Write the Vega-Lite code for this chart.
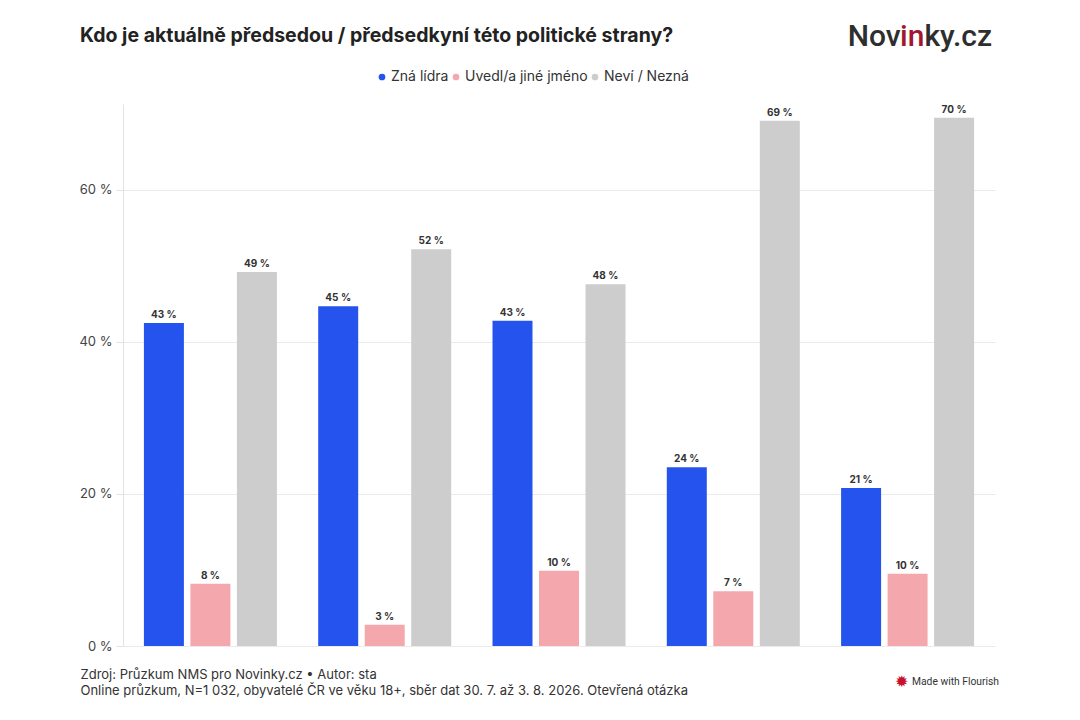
{
  "$schema": "https://vega.github.io/schema/vega-lite/v6.json",
  "background": "white",
  "autosize": {"type": "none"},
  "width": 872,
  "height": 542,
  "padding": {"left": 123, "top": 104, "right": 85, "bottom": 74},
  "title": {
    "text": "Kdo je aktuálně předsedou / předsedkyní této politické strany?",
    "anchor": "start",
    "frame": "group",
    "dx": -43,
    "offset": -24,
    "font": "Inter",
    "fontSize": 19.5,
    "fontWeight": 700,
    "color": "#222222"
  },
  "data": {
    "values": [
      {"strana": "Strana 1", "odpoved": "Zná lídra", "hodnota": 42.5, "popisek": "43 %"},
      {"strana": "Strana 1", "odpoved": "Uvedl/a jiné jméno", "hodnota": 8.2, "popisek": "8 %"},
      {"strana": "Strana 1", "odpoved": "Neví / Nezná", "hodnota": 49.2, "popisek": "49 %"},
      {"strana": "Strana 2", "odpoved": "Zná lídra", "hodnota": 44.7, "popisek": "45 %"},
      {"strana": "Strana 2", "odpoved": "Uvedl/a jiné jméno", "hodnota": 2.8, "popisek": "3 %"},
      {"strana": "Strana 2", "odpoved": "Neví / Nezná", "hodnota": 52.2, "popisek": "52 %"},
      {"strana": "Strana 3", "odpoved": "Zná lídra", "hodnota": 42.8, "popisek": "43 %"},
      {"strana": "Strana 3", "odpoved": "Uvedl/a jiné jméno", "hodnota": 9.9, "popisek": "10 %"},
      {"strana": "Strana 3", "odpoved": "Neví / Nezná", "hodnota": 47.6, "popisek": "48 %"},
      {"strana": "Strana 4", "odpoved": "Zná lídra", "hodnota": 23.5, "popisek": "24 %"},
      {"strana": "Strana 4", "odpoved": "Uvedl/a jiné jméno", "hodnota": 7.2, "popisek": "7 %"},
      {"strana": "Strana 4", "odpoved": "Neví / Nezná", "hodnota": 69.1, "popisek": "69 %"},
      {"strana": "Strana 5", "odpoved": "Zná lídra", "hodnota": 20.8, "popisek": "21 %"},
      {"strana": "Strana 5", "odpoved": "Uvedl/a jiné jméno", "hodnota": 9.5, "popisek": "10 %"},
      {"strana": "Strana 5", "odpoved": "Neví / Nezná", "hodnota": 69.5, "popisek": "70 %"}
    ]
  },
  "encoding": {
    "x": {
      "field": "strana",
      "type": "nominal",
      "sort": null,
      "scale": {"paddingInner": 0.237, "paddingOuter": 0.12},
      "axis": {
        "labels": false,
        "ticks": false,
        "domain": false,
        "grid": false,
        "title": [
          "Zdroj: Průzkum NMS pro Novinky.cz • Autor: sta",
          "Online průzkum, N=1 032, obyvatelé ČR ve věku 18+, sběr dat 30. 7. až 3. 8. 2026. Otevřená otázka"
        ],
        "titleAnchor": "start",
        "titleAlign": "left",
        "titleBaseline": "top",
        "titleX": -43,
        "titleY": 22,
        "titleFont": "Inter",
        "titleFontSize": 13,
        "titleFontWeight": 400,
        "titleColor": "#333333",
        "titleLineHeight": 16
      }
    },
    "xOffset": {
      "field": "odpoved",
      "type": "nominal",
      "sort": ["Zná lídra", "Uvedl/a jiné jméno", "Neví / Nezná"],
      "scale": {"paddingInner": 0.14, "paddingOuter": 0}
    },
    "y": {
      "field": "hodnota",
      "type": "quantitative",
      "scale": {"domain": [0, 71.3], "nice": false},
      "axis": {
        "title": null,
        "values": [0, 20, 40, 60],
        "labelExpr": "datum.value + ' %'",
        "labelFont": "Inter",
        "labelFontSize": 13,
        "labelColor": "#444444",
        "labelPadding": 4,
        "tickSize": 7,
        "tickColor": "#e3e3e3",
        "domainColor": "#e3e3e3",
        "gridColor": "#ebebeb"
      }
    }
  },
  "layer": [
    {
      "mark": {"type": "bar"},
      "encoding": {
        "color": {
          "field": "odpoved",
          "type": "nominal",
          "sort": ["Zná lídra", "Uvedl/a jiné jméno", "Neví / Nezná"],
          "scale": {
            "domain": ["Zná lídra", "Uvedl/a jiné jméno", "Neví / Nezná"],
            "range": ["#2553ee", "#f4a8ae", "#cdcdcd"]
          },
          "legend": {
            "title": null,
            "orient": "none",
            "direction": "horizontal",
            "legendX": 252,
            "legendY": -34,
            "symbolType": "circle",
            "symbolSize": 45,
            "symbolStrokeWidth": 0,
            "labelFont": "Inter",
            "labelFontSize": 14,
            "labelColor": "#333333",
            "labelOffset": 2,
            "columnPadding": 0
          }
        }
      }
    },
    {
      "mark": {
        "type": "text",
        "baseline": "alphabetic",
        "dy": -5,
        "font": "Inter",
        "fontSize": 10,
        "fontWeight": 700,
        "color": "#333333"
      },
      "encoding": {
        "text": {"field": "popisek"}
      }
    },
    {
      "data": {"values": [{"cast": "Nov"}]},
      "mark": {"type": "text", "align": "right", "baseline": "alphabetic", "font": "Roboto", "fontSize": 30, "fontWeight": 500, "color": "#2e2e2e"},
      "encoding": {"x": {"value": 777.6}, "y": {"value": -58}, "text": {"field": "cast"}, "xOffset": null}
    },
    {
      "data": {"values": [{"cast": "in"}]},
      "mark": {"type": "text", "align": "right", "baseline": "alphabetic", "font": "Roboto", "fontSize": 30, "fontWeight": 500, "color": "#a0172f"},
      "encoding": {"x": {"value": 801.4}, "y": {"value": -58}, "text": {"field": "cast"}, "xOffset": null}
    },
    {
      "data": {"values": [{"cast": "ky.cz"}]},
      "mark": {"type": "text", "align": "right", "baseline": "alphabetic", "font": "Roboto", "fontSize": 30, "fontWeight": 500, "color": "#2e2e2e"},
      "encoding": {"x": {"value": 869}, "y": {"value": -58}, "text": {"field": "cast"}, "xOffset": null}
    },
    {
      "data": {"values": [{"cast": "✹"}]},
      "mark": {"type": "text", "align": "center", "baseline": "middle", "fontSize": 16, "color": "#c8102e"},
      "encoding": {"x": {"value": 778}, "y": {"value": 578}, "text": {"field": "cast"}, "xOffset": null}
    },
    {
      "data": {"values": [{"cast": "Made with Flourish"}]},
      "mark": {"type": "text", "align": "left", "baseline": "middle", "font": "Roboto", "fontSize": 10.3, "color": "#333333"},
      "encoding": {"x": {"value": 789}, "y": {"value": 578}, "text": {"field": "cast"}, "xOffset": null}
    }
  ],
  "config": {
    "view": {"stroke": null},
    "font": "Inter"
  }
}
